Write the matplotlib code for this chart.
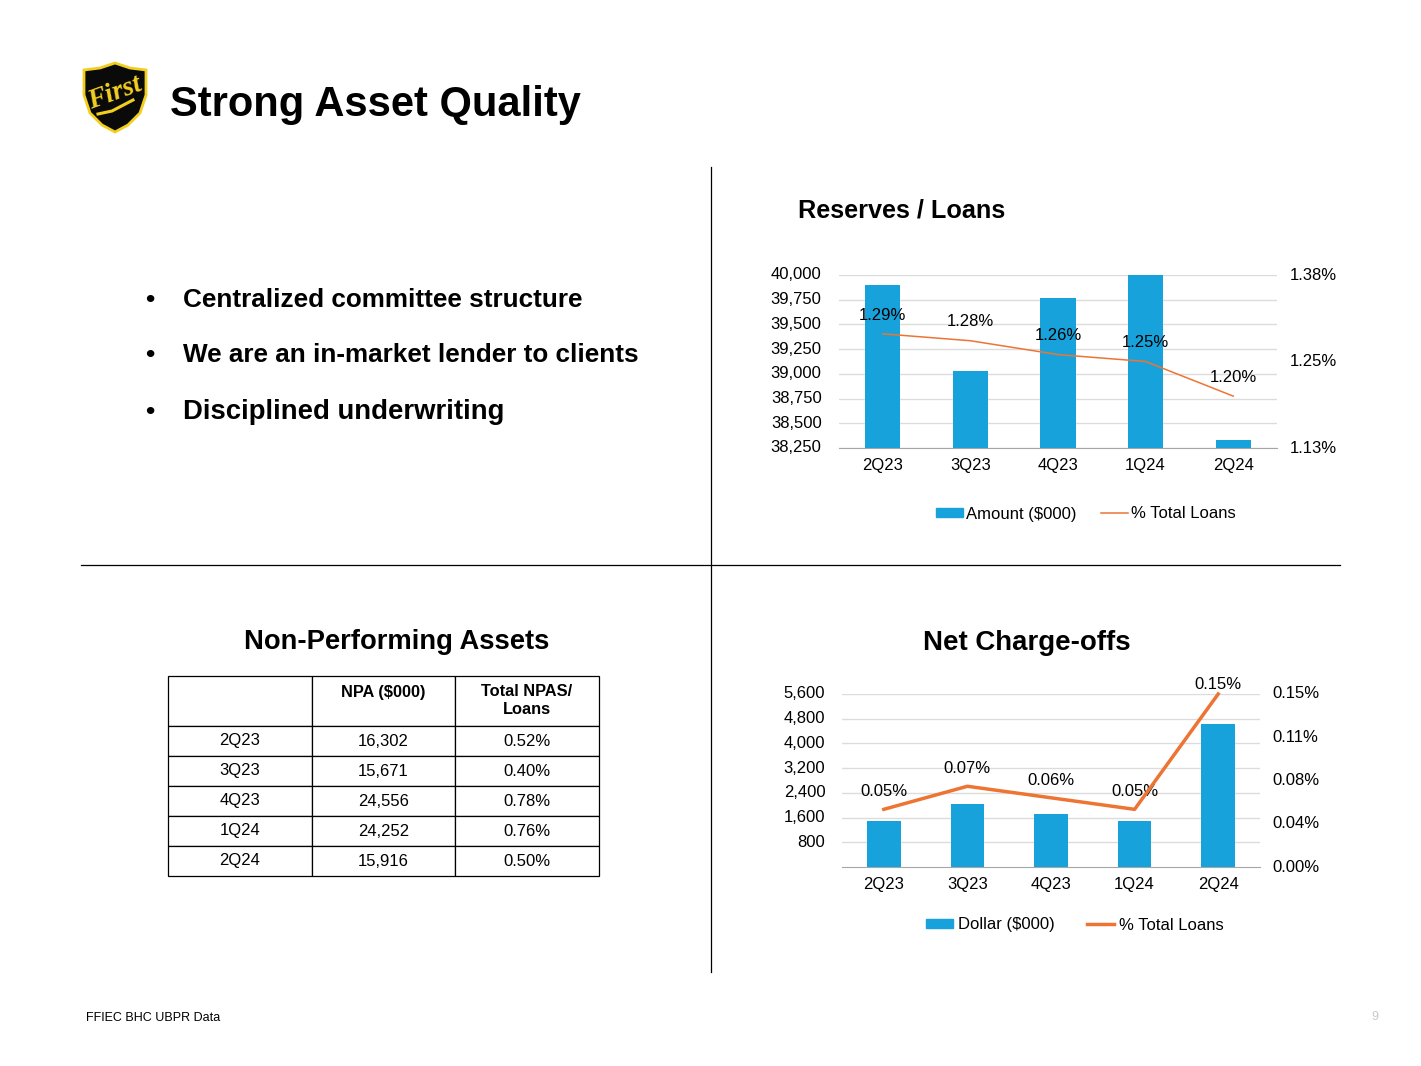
import matplotlib
matplotlib.use("Agg")
import matplotlib.pyplot as plt
from matplotlib.patches import Polygon, Patch
from matplotlib.lines import Line2D
from matplotlib.transforms import ScaledTranslation
import numpy as np

quarters = ["2Q23", "3Q23", "4Q23", "1Q24", "2Q24"]

reserves_amount = [39900, 39030, 39765, 40000, 38330]
reserves_pct = [1.29, 1.28, 1.26, 1.25, 1.20]
reserves_ticks = [38250, 38500, 38750, 39000, 39250, 39500, 39750, 40000]
reserves_pct_ticks = [1.125, 1.25, 1.375]
reserves_pct_labels = ["1.13%", "1.25%", "1.38%"]

nco_amount = [1490, 2040, 1715, 1495, 4630]
nco_pct = [0.05, 0.07, 0.06, 0.05, 0.15]
nco_ticks = [800, 1600, 2400, 3200, 4000, 4800, 5600]
nco_pct_ticks = [0, 0.0375, 0.075, 0.1125, 0.15]
nco_pct_labels = ["0.00%", "0.04%", "0.08%", "0.11%", "0.15%"]

npa_columns = ["", "NPA ($000)\n ", "Total NPAS/\nLoans"]
npa_values = ["16,302", "15,671", "24,556", "24,252", "15,916"]
npa_ratio = ["0.52%", "0.40%", "0.78%", "0.76%", "0.50%"]

bullets = ["Centralized committee structure",
           "We are an in-market lender to clients",
           "Disciplined underwriting"]

plt.rcParams['font.family'] = ['Liberation Sans', 'DejaVu Sans']
BLUE = "#18A2DC"
ORANGE = "#EE7434"
W, H = 1421, 1066

fig = plt.figure(figsize=(W / 100, H / 100), dpi=100)


def px_axes(x0, y0, x1, y1):
    return fig.add_axes([x0 / W, 1 - y1 / H, (x1 - x0) / W, (y1 - y0) / H])


# page furniture in pixel coordinates
page = fig.add_axes([0, 0, 1, 1])
page.set_xlim(0, W)
page.set_ylim(H, 0)
page.axis("off")

page.plot([710.5, 710.5], [167, 972], color="black", lw=0.9)
page.plot([81, 1340], [565, 565], color="black", lw=0.9)

# logo
shield = [(84, 70), (100, 68), (115, 63), (130, 68), (146, 70), (146, 95),
          (140, 113), (128, 125), (115, 132), (102, 125), (90, 113), (84, 95)]
page.add_patch(Polygon(shield, closed=True, fc="#0a0a0a", ec="#F2CF1F", lw=2))
page.text(115, 93, "First", color="#F2CF1F", fontsize=20, fontweight="bold",
          style="italic", family="Liberation Serif", ha="center", va="center",
          rotation=20)
page.plot([98, 112, 133], [114, 111, 100], color="#F2CF1F", lw=2.2)

page.text(170, 105, "Strong Asset Quality", fontsize=30, fontweight="bold",
          ha="left", va="center")
page.text(798, 210, "Reserves / Loans", fontsize=18.2, fontweight="bold",
          ha="left", va="center")
page.text(397, 642, "Non-Performing Assets", fontsize=19.7, fontweight="bold",
          ha="center", va="center")
page.text(1027, 643, "Net Charge-offs", fontsize=19.9, fontweight="bold",
          ha="center", va="center")

for y, b, fs in zip([300, 355, 412], bullets, [18.8, 18.8, 19.8]):
    page.text(145, y, "•", fontsize=19, fontweight="bold", ha="left", va="center")
    page.text(183, y, b, fontsize=fs, fontweight="bold", ha="left", va="center")

page.text(86, 1018, "FFIEC BHC UBPR Data", fontsize=9, ha="left", va="center")
page.text(1375, 1017, "9", fontsize=9, color="#c8c8c8", ha="center", va="center")


def combo(box, amounts, pcts, ticks, ymin, pct_ylim, pct_ticks, pct_labels, lw,
          pad_l, pad_r, offsets):
    ax = px_axes(*box)
    x = np.arange(len(quarters))
    ax.bar(x, amounts, width=0.4, color=BLUE, zorder=3)
    ax.set_xlim(-0.5, 4.5)
    ax.set_ylim(ymin, ticks[-1])
    ax.set_yticks(ticks)
    ax.set_yticklabels([f"{t:,}" for t in ticks])
    ax.set_xticks(x)
    ax.set_xticklabels(quarters)
    ax.grid(axis="y", color="#dcdcdc", lw=1, zorder=0)
    ax.set_axisbelow(True)
    for s in ["top", "left", "right"]:
        ax.spines[s].set_visible(False)
    ax.spines["bottom"].set_color("#a6a6a6")
    ax.tick_params(axis="y", length=0, labelsize=12, pad=pad_l)
    ax.tick_params(axis="x", length=0, labelsize=12, pad=7)

    ax2 = ax.twinx()
    ax2.plot(x, pcts, color=ORANGE, lw=lw, zorder=4, clip_on=False)
    ax2.set_ylim(*pct_ylim)
    ax2.set_yticks(pct_ticks)
    ax2.set_yticklabels(pct_labels)
    ax2.tick_params(axis="y", length=0, labelsize=12, pad=pad_r)
    for s in ax2.spines.values():
        s.set_visible(False)
    nudge = ScaledTranslation(0, 1.5 / 100, fig.dpi_scale_trans)
    for lab in ax.get_yticklabels() + ax2.get_yticklabels():
        lab.set_transform(lab.get_transform() + nudge)
    for xi, p, off in zip(x, pcts, offsets):
        ax2.annotate(f"{p:.2f}%", (xi, p), xytext=(0, off),
                     textcoords="offset points", ha="center", va="center",
                     fontsize=12, annotation_clip=False)
    return ax


combo((839, 275, 1277, 448), reserves_amount, reserves_pct, reserves_ticks, 38250,
      (1.125, 1.375), reserves_pct_ticks, reserves_pct_labels, 1.1, 12.5, 9.5,
      [13.5] * 5)
combo((842, 694, 1260, 867), nco_amount, nco_pct, nco_ticks, 0,
      (0, 0.15), nco_pct_ticks, nco_pct_labels, 2.5, 12, 9,
      [12.5, 12.5, 12.5, 12.5, 6.5])

fig.legend(handles=[Patch(color=BLUE, label="Amount ($000)"),
                    Line2D([], [], color=ORANGE, lw=1.1, label="% Total Loans")],
           loc="center", bbox_to_anchor=(1086 / W, 1 - 514 / H), ncol=2,
           frameon=False, fontsize=12, handlelength=1.6, handleheight=0.45,
           handletextpad=0.2, columnspacing=1.5)
fig.legend(handles=[Patch(color=BLUE, label="Dollar ($000)"),
                    Line2D([], [], color=ORANGE, lw=2.5, label="% Total Loans")],
           loc="center", bbox_to_anchor=(1075 / W, 1 - 925 / H), ncol=2,
           frameon=False, fontsize=12, handlelength=1.6, handleheight=0.45,
           handletextpad=0.35, columnspacing=1.9)

# NPA table
tab_ax = px_axes(168, 676, 599, 876)
tab_ax.axis("off")
rows = [npa_columns] + [[q, v, r] for q, v, r in zip(quarters, npa_values, npa_ratio)]
tbl = tab_ax.table(cellText=rows, colWidths=[144 / 431, 143 / 431, 144 / 431],
                   cellLoc="center", bbox=[0, 0, 1, 1])
tbl.auto_set_font_size(False)
for (r, c), cell in tbl.get_celld().items():
    cell.set_height((50 if r == 0 else 30) / 200)
    cell.set_linewidth(0.9)
    cell.set_edgecolor("black")
    cell.get_text().set_fontsize(12 if r else 11.8)
    if r == 0:
        cell.get_text().set_fontweight("bold")
        cell.get_text().set_linespacing(1.25)

fig.savefig("out.png", dpi=100)
